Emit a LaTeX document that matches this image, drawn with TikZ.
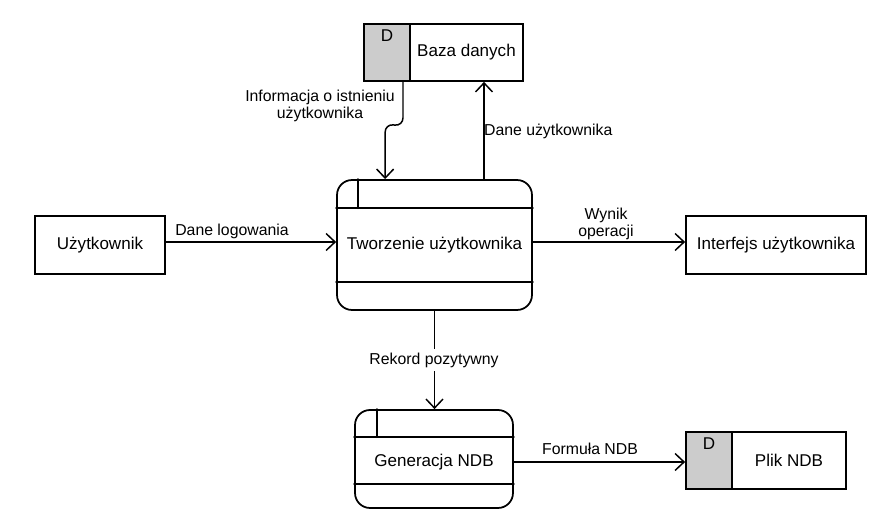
\documentclass[tikz,border=0pt]{standalone}
\usepackage{fontspec}
\setmainfont{Liberation Sans}
\usetikzlibrary{arrows.meta,calc,positioning}
\colorlet{storeGrey}{black!20}
\tikzset{
  txt/.style={font=\fontsize{9.7pt}{11.5pt}\selectfont},
  ext/.style={txt,draw,line width=1pt,minimum height=1.16cm},
  proc/.style={txt,draw,line width=1pt,rounded corners=0.3cm},
  storeD/.style={draw,line width=1pt,fill=storeGrey,minimum width=0.92cm,minimum height=1.14cm},
  storeT/.style={txt,draw,line width=1pt,minimum height=1.14cm},
  flow/.style={line width=0.85pt,-{Straight Barb[length=1.8mm,width=3.4mm,line width=0.85pt]}},
  lbl/.style={font=\fontsize{9pt}{10.8pt}\selectfont,align=center,inner sep=1pt}
}
\begin{document}
\begin{tikzpicture}[x=0.02cm,y=-0.02cm,line cap=round]
  \useasboundingbox (0,0) rectangle (894,526);

  % stores
  \node[storeD] (bazaD) at (387,52.5) {};
  \node[txt,anchor=north,inner sep=3.5pt] at (bazaD.north) {D};
  \node[storeT,minimum width=2.26cm] (baza) at (466.5,52.5) {Baza danych};

  \node[storeD] (plikD) at (709,460.5) {};
  \node[txt,anchor=north,inner sep=3.5pt] at (plikD.north) {D};
  \node[storeT,minimum width=2.28cm] (plik) at (789,460.5) {Plik NDB};

  % external entities
  \node[ext,minimum width=2.6cm] (uzyt) at (100,245) {Użytkownik};
  \node[ext,minimum width=3.6cm] (interf) at (776,245) {Interfejs użytkownika};

  % processes
  \node[proc,minimum width=3.9cm,minimum height=2.6cm] (tworz) at (434.5,245) {Tworzenie użytkownika};
  \draw[line width=1pt] ($(tworz.north west)+(0,29)$) -- ($(tworz.north east)+(0,29)$);
  \draw[line width=1pt] ($(tworz.south west)+(0,-29)$) -- ($(tworz.south east)+(0,-29)$);
  \draw[line width=1pt] ($(tworz.north west)+(22,0)$) -- ($(tworz.north west)+(22,29)$);

  \node[proc,minimum width=3.16cm,minimum height=1.96cm] (gen) at (434,459) {};
  \node[txt] at (434,462) {Generacja NDB};
  \draw[line width=1pt] ($(gen.north west)+(0,28)$) -- ($(gen.north east)+(0,28)$);
  \draw[line width=1pt] ($(gen.south west)+(0,-25)$) -- ($(gen.south east)+(0,-25)$);
  \draw[line width=1pt] ($(gen.north west)+(23,0)$) -- ($(gen.north west)+(23,28)$);

  % flows
  \draw[flow] ([yshift=0.06cm]uzyt.east) -- ([yshift=0.06cm]uzyt.east -| tworz.west);
  \node[lbl] (lLog) at (232,231) {Dane logowania};

  \draw[flow] ([yshift=0.06cm]tworz.east) -- ([yshift=0.06cm]tworz.east -| interf.west);
  \node[lbl] (lWyn) at (606,224) {Wynik\\[-1pt]operacji};

  \coordinate (daneStart) at ($(tworz.north)+(49.5,0)$);
  \draw[flow] (daneStart) -- (daneStart |- baza.south);
  \node[lbl,anchor=west] (lDane) at (482,131) {Dane użytkownika};

  \coordinate (infStart) at ($(bazaD.south)+(16,0)$);
  \coordinate (infEnd) at ($(tworz.north west)+(49,0)$);
  \draw[flow,rounded corners=0.16cm] (infStart) -- ($(infStart)+(0,44)$) -- ($(infEnd)+(0,-55)$) -- (infEnd);
  \node[lbl] (lInf) at (320,106) {Informacja o istnieniu\\[-1pt]użytkownika};

  \draw[flow] (tworz.south) -- (tworz.south |- gen.north);
  \node[lbl,fill=white,inner sep=2pt] (lRek) at (434,360) {Rekord pozytywny};

  \draw[flow] ([yshift=-0.06cm]gen.east) -- ([yshift=-0.06cm]gen.east -| plikD.west);
  \node[lbl] (lForm) at (590,449) {Formuła NDB};
\end{tikzpicture}
\end{document}
